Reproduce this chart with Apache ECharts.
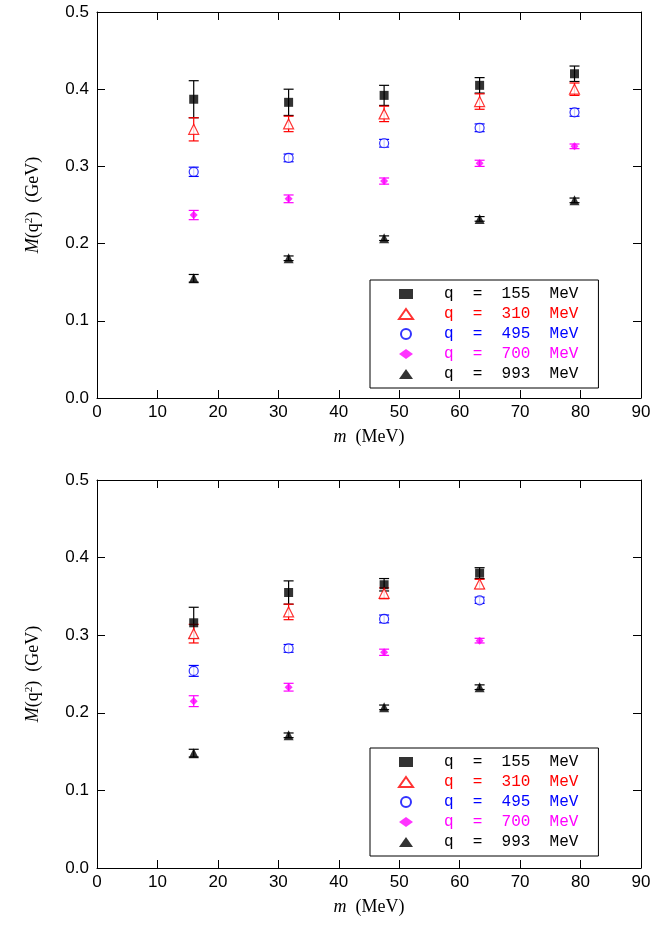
<!DOCTYPE html>
<html><head><meta charset="utf-8">
<script src="https://cdn.jsdelivr.net/npm/echarts@6/dist/echarts.min.js"></script>
<style>html,body{margin:0;background:#fff}#c{width:655px;height:933px}</style>
</head><body><div id="c"></div>
<script>
// masses (MeV)
const mTop = [16, 31.7, 47.5, 63.3, 79]
const mBot = [16, 31.7, 47.5, 63.3]
const qLabels = ['q  =  155  MeV', 'q  =  310  MeV', 'q  =  495  MeV', 'q  =  700  MeV', 'q  =  993  MeV']

// top panel values and errors
const top155 = [0.387, 0.383, 0.392, 0.405, 0.420], top155e = [0.024, 0.017, 0.013, 0.010, 0.010]
const top310 = [0.348, 0.355, 0.368, 0.384, 0.400], top310e = [0.015, 0.010, 0.010, 0.010, 0.008]
const top495 = [0.293, 0.311, 0.330, 0.350, 0.370], top495e = [0.006, 0.005, 0.005, 0.005, 0.005]
const top700 = [0.237, 0.258, 0.281, 0.304, 0.326], top700e = [0.006, 0.005, 0.004, 0.004, 0.003]
const top993 = [0.155, 0.181, 0.207, 0.232, 0.256], top993e = [0.005, 0.003, 0.003, 0.003, 0.003]

// bottom panel values and errors
const bot155 = [0.316, 0.355, 0.365, 0.380], bot155e = [0.020, 0.015, 0.008, 0.007]
const bot310 = [0.302, 0.330, 0.354, 0.366], bot310e = [0.012, 0.010, 0.007, 0.006]
const bot495 = [0.254, 0.283, 0.321, 0.345], bot495e = [0.007, 0.005, 0.005, 0.004]
const bot700 = [0.215, 0.233, 0.278, 0.293], bot700e = [0.007, 0.005, 0.004, 0.003]
const bot993 = [0.148, 0.171, 0.207, 0.233], bot993e = [0.005, 0.003, 0.003, 0.003]

const colors = ['#000000', '#ff0000', '#0000ff', '#ff00ff', '#000000']
const symbols = ['rect', 'triangle', 'circle', 'diamond', 'triangle']
const filled = [true, false, false, true, true]
const sizes = [9, 10, 9, 8, 10]

const chart = echarts.init(document.getElementById('c'))

function axes(gi) {
  const common = { gridIndex: gi, axisTick: { inside: true, length: 8, lineStyle: { color: '#000' } },
    axisLine: { show: true, onZero: false, lineStyle: { color: '#000', width: 1 } }, splitLine: { show: false } }
  const xs = [
    { ...common, type: 'value', min: 0, max: 90, interval: 10, position: 'bottom',
      axisLabel: { color: '#000', fontSize: 17, fontFamily: 'Liberation Sans', margin: 6 },
      name: '{i|m}  (MeV)', nameLocation: 'middle', nameGap: 30,
      nameTextStyle: { color: '#000', fontSize: 18, fontFamily: 'Liberation Serif',
        rich: { i: { fontStyle: 'italic', fontSize: 18, fontFamily: 'Liberation Serif' } } } },
    { ...common, type: 'value', min: 0, max: 90, interval: 10, position: 'top', axisLabel: { show: false } }
  ]
  const ys = [
    { ...common, type: 'value', min: 0, max: 0.5, interval: 0.1, position: 'left',
      axisLabel: { color: '#000', fontSize: 17, fontFamily: 'Liberation Sans', margin: 8, formatter: v => v.toFixed(1) },
      name: '{i|M}(q{s|2})  (GeV)', nameLocation: 'middle', nameGap: 54, nameRotate: 90,
      nameTextStyle: { color: '#000', fontSize: 18, fontFamily: 'Liberation Serif',
        rich: { i: { fontStyle: 'italic', fontSize: 18, fontFamily: 'Liberation Serif' },
                s: { fontSize: 11, verticalAlign: 'top', padding: [0, 0, 8, 0] } } } },
    { ...common, type: 'value', min: 0, max: 0.5, interval: 0.1, position: 'right', axisLabel: { show: false } }
  ]
  return { xs, ys }
}

const a0 = axes(0), a1 = axes(1)
const series = []
function addPanel(gi, xsArr, vals, errs, prefix) {
  vals.forEach((v, k) => {
    const col = colors[k]
    series.push({
      type: 'custom', xAxisIndex: gi * 2, yAxisIndex: gi * 2, z: 2,
      data: xsArr.map((x, j) => [x, v[j] - errs[k][j], v[j] + errs[k][j]]),
      renderItem: (p, api) => {
        const lo = api.coord([api.value(0), api.value(1)])
        const hi = api.coord([api.value(0), api.value(2)])
        const w = 5
        const st = { stroke: col, lineWidth: 1.2 }
        return { type: 'group', children: [
          { type: 'line', shape: { x1: lo[0], y1: lo[1], x2: hi[0], y2: hi[1] }, style: st },
          { type: 'line', shape: { x1: lo[0] - w, y1: lo[1], x2: lo[0] + w, y2: lo[1] }, style: st },
          { type: 'line', shape: { x1: hi[0] - w, y1: hi[1], x2: hi[0] + w, y2: hi[1] }, style: st }
        ] }
      }
    })
    series.push({
      name: prefix + k, type: 'scatter', xAxisIndex: gi * 2, yAxisIndex: gi * 2, z: 3,
      symbol: symbols[k], symbolSize: sizes[k],
      itemStyle: { color: filled[k] ? col : '#fff', borderColor: col, borderWidth: filled[k] ? 0 : 1.2 },
      data: xsArr.map((x, j) => [x, v[j]])
    })
  })
}
addPanel(0, mTop, [top155, top310, top495, top700, top993], [top155e, top310e, top495e, top700e, top993e], 't')
addPanel(1, mBot, [bot155, bot310, bot495, bot700, bot993], [bot155e, bot310e, bot495e, bot700e, bot993e], 'b')

function legend(prefix, top) {
  return {
    left: 370, top: top, width: 239, orient: 'vertical', itemGap: 4,
    padding: [6, 20, 6, 28], borderColor: '#000', borderWidth: 1, backgroundColor: '#fff',
    itemWidth: 14, itemHeight: 10, selectedMode: false,
    formatter: n => qLabels[+n.slice(1)],
    data: qLabels.map((l, k) => ({ name: prefix + k,
      textStyle: { color: colors[k], fontSize: 16, fontFamily: 'Liberation Mono', padding: [0, 0, 0, 26] } }))
  }
}

chart.setOption({
  animation: false,
  grid: [
    { left: 97, top: 12, width: 544, height: 386 },
    { left: 97, top: 480, width: 544, height: 388 }
  ],
  xAxis: [...a0.xs, ...a1.xs],
  yAxis: [...a0.ys, ...a1.ys],
  legend: [legend('t', 280), legend('b', 748)],
  series
})
</script></body></html>
